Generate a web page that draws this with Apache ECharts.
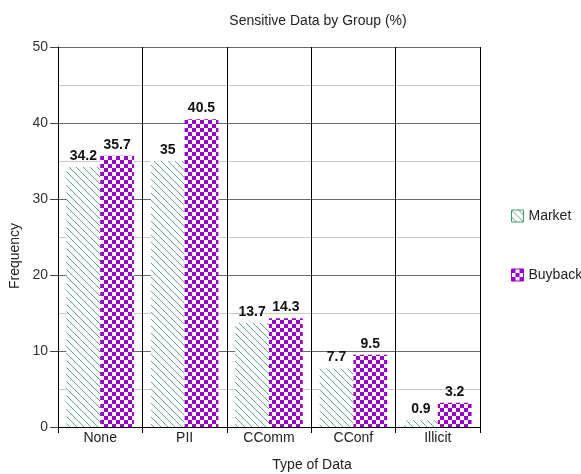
<!DOCTYPE html>
<html><head><meta charset="utf-8">
<script src="https://cdn.jsdelivr.net/npm/echarts@6/dist/echarts.min.js"></script>
<style>html,body{margin:0;padding:0;background:#fff}#c{width:581px;height:474px}</style>
</head><body><div id="c"></div>
<script>
var categories = ['None', 'PII', 'CComm', 'CConf', 'Illicit'];
var marketValues = [34.2, 35, 13.7, 7.7, 0.9];
var buybackValues = [35.7, 40.5, 14.3, 9.5, 3.2];
var seriesNames = ['Market', 'Buyback'];
var chartTitle = 'Sensitive Data by Group (%)';
var xTitle = 'Type of Data';
var yTitle = 'Frequency';

function hatch() {
  var s = 7;
  var c = document.createElement('canvas'); c.width = s; c.height = s;
  var g = c.getContext('2d');
  g.fillStyle = '#fff'; g.fillRect(0, 0, s, s);
  g.strokeStyle = '#4a9c74'; g.lineWidth = 0.9;
  g.beginPath();
  g.moveTo(-1, -1); g.lineTo(s + 1, s + 1);
  g.moveTo(-s - 1, -1); g.lineTo(1, s + 1);
  g.moveTo(s - 1, -1); g.lineTo(2 * s + 1, s + 1);
  g.stroke();
  return c;
}
function checker() {
  var c = document.createElement('canvas'); c.width = 8; c.height = 8;
  var g = c.getContext('2d');
  g.fillStyle = '#fff'; g.fillRect(0, 0, 8, 8);
  g.fillStyle = '#9900cc';
  g.fillRect(0, 0, 4, 4); g.fillRect(4, 4, 4, 4);
  return c;
}
var hatchPat = {image: hatch(), repeat: 'repeat'};
var checkPat = {image: checker(), repeat: 'repeat'};

var chart = echarts.init(document.getElementById('c'), null, {renderer: 'canvas'});
var lbl = {show: true, position: 'top', distance: 4, fontWeight: 'bold', fontSize: 14, color: '#111', fontFamily: 'Liberation Sans'};
chart.setOption({
  animation: false,
  textStyle: {fontFamily: 'Liberation Sans'},
  title: {text: chartTitle, left: 313, textAlign: 'center', top: 9, textStyle: {fontSize: 14, fontWeight: 'normal', color: '#222'}},
  legend: {
    orient: 'vertical', left: 506, top: 204, itemGap: 45, itemWidth: 12, itemHeight: 12,
    icon: 'rect', textStyle: {fontSize: 14, color: '#222'},
    data: [
      {name: seriesNames[0], itemStyle: {borderColor: '#3f9a6c', borderWidth: 1}},
      {name: seriesNames[1], itemStyle: {borderColor: '#9900cc', borderWidth: 1}}
    ]
  },
  graphic: [
    {type: 'text', x: 312, y: 465, style: {text: xTitle, fontSize: 14, fill: '#222', fontFamily: 'Liberation Sans', align: 'center', verticalAlign: 'middle'}},
    {type: 'text', x: 15, y: 256, rotation: Math.PI / 2, style: {text: yTitle, fontSize: 14, fill: '#222', fontFamily: 'Liberation Sans', align: 'center', verticalAlign: 'middle'}}
  ],
  grid: {left: 58, right: 101, top: 47, bottom: 47},
  xAxis: {
    type: 'category', data: categories,
    axisLine: {lineStyle: {color: '#000', width: 1}},
    axisTick: {show: true, length: 6, lineStyle: {color: '#000'}},
    axisLabel: {fontSize: 14, color: '#222', margin: 4},
    splitLine: {show: true, lineStyle: {color: '#000', width: 1}}
  },
  yAxis: {
    type: 'value', min: 0, max: 50, interval: 10,
    axisLine: {show: true, lineStyle: {color: '#000'}},
    axisTick: {show: true, length: 8, lineStyle: {color: '#444'}},
    axisLabel: {fontSize: 14, color: '#333', margin: 10},
    splitLine: {show: true, lineStyle: {color: '#6a6a6a', width: 1}},
    minorTick: {show: false, splitNumber: 2},
    minorSplitLine: {show: true, lineStyle: {color: '#c8c8c8', width: 1}}
  },
  series: [
    {name: seriesNames[0], type: 'bar', data: marketValues, barGap: '0%', barCategoryGap: '20%',
     itemStyle: {color: hatchPat}, label: lbl},
    {name: seriesNames[1], type: 'bar', data: buybackValues,
     itemStyle: {color: checkPat}, label: lbl}
  ]
});
</script></body></html>
